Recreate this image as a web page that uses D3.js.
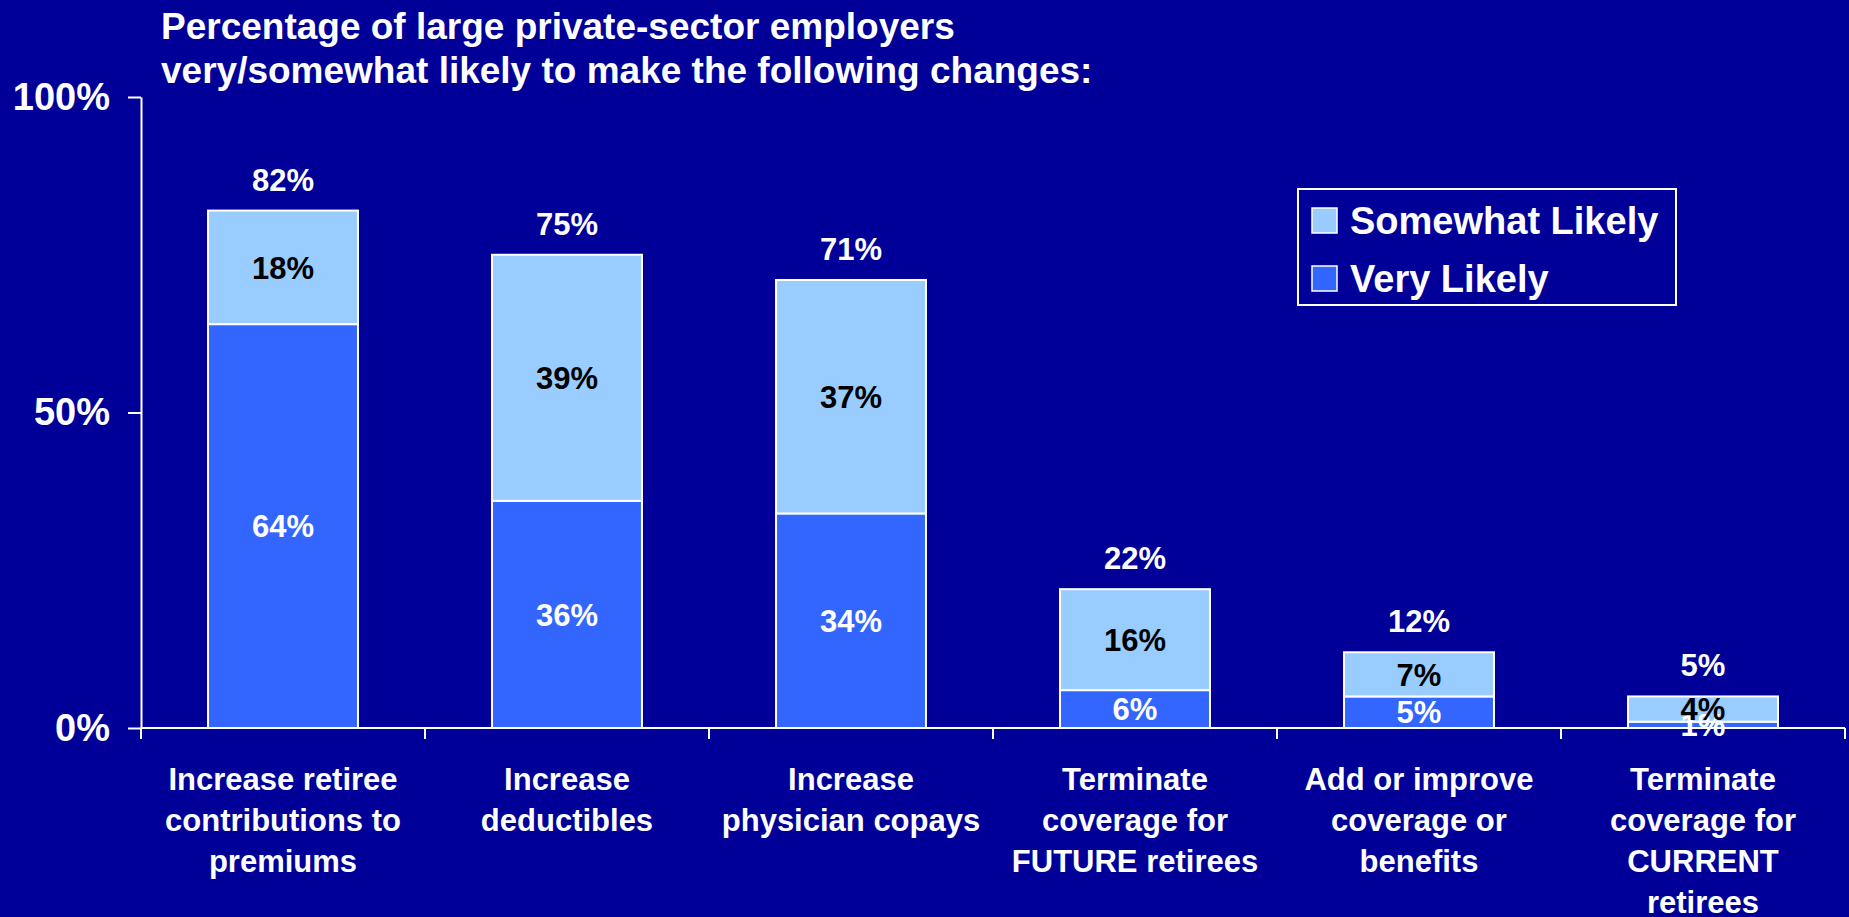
<!DOCTYPE html>
<html>
<head>
<meta charset="utf-8">
<script src="https://cdn.jsdelivr.net/npm/d3@7"></script>
<style>
  html, body { margin: 0; padding: 0; background: #000099; overflow: hidden; }
  text { font-family: "Liberation Sans", Arial, sans-serif; font-weight: bold; }
</style>
</head>
<body>
<svg id="chart"></svg>
<script>
var width = 1849;
var height = 917;

// data
var categories = [
  ['Increase retiree', 'contributions to', 'premiums'],
  ['Increase', 'deductibles'],
  ['Increase', 'physician copays'],
  ['Terminate', 'coverage for', 'FUTURE retirees'],
  ['Add or improve', 'coverage or', 'benefits'],
  ['Terminate', 'coverage for', 'CURRENT', 'retirees']
];
var veryLikely = [64, 36, 34, 6, 5, 1];
var somewhatLikely = [18, 39, 37, 16, 7, 4];
var totals = [82, 75, 71, 22, 12, 5];
var yTicks = [0, 50, 100];
var seriesNames = ['Somewhat Likely', 'Very Likely'];
var titleLines = ['Percentage of large private-sector employers',
                  'very/somewhat likely to make the following changes:'];

var colVery = '#3366ff';
var colSome = '#99ccff';

var svg = d3.select('#chart')
            .attr('width', width)
            .attr('height', height);

var x = d3.scaleBand()
          .domain(d3.range(categories.length))
          .range([141, 1845])
          .paddingInner(0.472)
          .paddingOuter(0.236);

var y = d3.scaleLinear()
          .domain([0, 100])
          .range([728, 97]);

// title
svg.append('g')
   .selectAll('text')
   .data(titleLines)
   .enter()
   .append('text')
     .attr('x', 161)
     .attr('y', (d, i) => 39 + i * 44)
     .attr('fill', 'white')
     .style('font-size', '37px')
     .text(d => d);

// y axis
var yAxis = svg.append('g')
               .attr('transform', 'translate(141,0)')
               .call(d3.axisLeft(y)
                        .tickValues(yTicks)
                        .tickFormat(d => d + '%')
                        .tickSize(13)
                        .tickSizeOuter(0)
                        .tickPadding(18));
yAxis.select('.domain').attr('stroke', 'white').attr('stroke-width', 2);
yAxis.selectAll('.tick line').attr('stroke', 'white').attr('stroke-width', 2);
yAxis.selectAll('.tick text')
     .attr('fill', 'white')
     .style('font-size', '38px')
     .style('font-family', '"Liberation Sans", Arial, sans-serif')
     .style('font-weight', 'bold');

// stacked bars
var rows = categories.map((c, i) => ({i: i, very: veryLikely[i], some: somewhatLikely[i], total: totals[i]}));
var bars = svg.append('g')
              .selectAll('g')
              .data(rows)
              .enter()
              .append('g');

bars.append('rect')
    .attr('x', d => x(d.i))
    .attr('width', x.bandwidth())
    .attr('y', d => y(d.very))
    .attr('height', d => y(0) - y(d.very))
    .attr('fill', colVery)
    .attr('stroke', 'white')
    .attr('stroke-width', 2);

bars.append('rect')
    .attr('x', d => x(d.i))
    .attr('width', x.bandwidth())
    .attr('y', d => y(d.very + d.some))
    .attr('height', d => y(d.very) - y(d.very + d.some))
    .attr('fill', colSome)
    .attr('stroke', 'white')
    .attr('stroke-width', 2);

// x axis line and boundary ticks
var bounds = d3.range(categories.length + 1).map(i => x.range()[0] + i * x.step());
svg.append('line')
   .attr('x1', x.range()[0]).attr('x2', x.range()[1])
   .attr('y1', y(0)).attr('y2', y(0))
   .attr('stroke', 'white').attr('stroke-width', 2);
svg.append('g')
   .selectAll('line')
   .data(bounds)
   .enter()
   .append('line')
     .attr('x1', d => d).attr('x2', d => d)
     .attr('y1', y(0)).attr('y2', y(0) + 11)
     .attr('stroke', 'white').attr('stroke-width', 2);

// value labels
bars.append('text')
    .attr('x', d => x(d.i) + x.bandwidth() / 2)
    .attr('y', d => y(d.very / 2))
    .attr('dy', '0.36em')
    .attr('text-anchor', 'middle')
    .attr('fill', 'white')
    .style('font-size', '31px')
    .text(d => d.very + '%');

bars.append('text')
    .attr('x', d => x(d.i) + x.bandwidth() / 2)
    .attr('y', d => y(d.very + d.some / 2))
    .attr('dy', '0.36em')
    .attr('text-anchor', 'middle')
    .attr('fill', 'black')
    .style('font-size', '31px')
    .text(d => d.some + '%');

bars.append('text')
    .attr('x', d => x(d.i) + x.bandwidth() / 2)
    .attr('y', d => y(d.total) - 20)
    .attr('text-anchor', 'middle')
    .attr('fill', 'white')
    .style('font-size', '31px')
    .text(d => d.total + '%');

// category labels
svg.append('g')
   .selectAll('text')
   .data(categories)
   .enter()
   .append('text')
     .attr('text-anchor', 'middle')
     .attr('fill', 'white')
     .style('font-size', '31px')
     .each(function (lines, i) {
       d3.select(this)
         .selectAll('tspan')
         .data(lines)
         .enter()
         .append('tspan')
           .attr('x', x(i) + x.bandwidth() / 2)
           .attr('y', (d, j) => 790 + j * 41)
           .text(d => d);
     });

// legend
var legend = svg.append('g');
legend.append('rect')
      .attr('x', 1298).attr('y', 189)
      .attr('width', 378).attr('height', 116)
      .attr('fill', 'none')
      .attr('stroke', 'white')
      .attr('stroke-width', 2);
var items = legend.selectAll('g.item')
                  .data(seriesNames)
                  .enter()
                  .append('g')
                  .classed('item', true)
                  .attr('transform', (d, i) => `translate(1312,${208 + i * 58})`);
items.append('rect')
     .attr('width', 25).attr('height', 25)
     .attr('fill', (d, i) => i === 0 ? colSome : colVery)
     .attr('stroke', 'white')
     .attr('stroke-width', 1.5);
items.append('text')
     .attr('x', 38)
     .attr('y', 26)
     .attr('fill', 'white')
     .style('font-size', '38px')
     .text(d => d);
</script>
</body>
</html>
